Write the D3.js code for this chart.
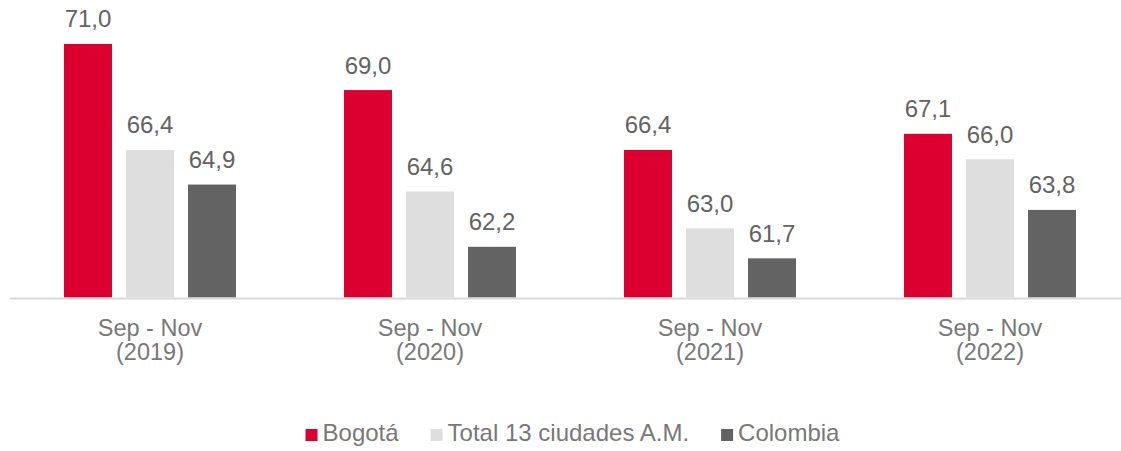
<!DOCTYPE html>
<html>
<head>
<meta charset="utf-8">
<script src="https://cdn.jsdelivr.net/npm/d3@7"></script>
<style>
  html, body { margin: 0; padding: 0; background: #ffffff; }
  svg { display: block; font-family: Arial, "Liberation Sans", Helvetica, sans-serif; }
</style>
</head>
<body>
<svg id="chart" width="1121" height="451"></svg>
<script>
// Periods on the x axis (two-line labels)
const periods = ["Sep - Nov (2019)", "Sep - Nov (2020)", "Sep - Nov (2021)", "Sep - Nov (2022)"];
const periodLines = [["Sep - Nov", "(2019)"], ["Sep - Nov", "(2020)"], ["Sep - Nov", "(2021)"], ["Sep - Nov", "(2022)"]];

// Series
const seriesNames = ["Bogotá", "Total 13 ciudades A.M.", "Colombia"];
const bogota = [71.0, 69.0, 66.4, 67.1];
const trece = [66.4, 64.6, 63.0, 66.0];
const colombia = [64.9, 62.2, 61.7, 63.8];
const seriesColors = ["#dc0030", "#dedede", "#636363"];

const seriesValues = [bogota, trece, colombia];
const rows = periods.map((p, i) => ({
  period: p,
  values: seriesNames.map((s, j) => ({ series: s, value: seriesValues[j][i], color: seriesColors[j] }))
}));

const locale = d3.formatLocale({ decimal: ",", thousands: ".", grouping: [3], currency: ["", ""] });
const fmt = locale.format(".1f");

const svg = d3.select("#chart");

const x0 = d3.scaleBand().domain(periods).range([10, 1130]);
const x1 = d3.scaleBand().domain(seriesNames).range([54, 226]).paddingInner(14 / 62);
const y = d3.scaleLinear().domain([60, 72]).range([297.5, 20.9]);

// Bars
const groups = svg.append("g").selectAll("g")
  .data(rows)
  .join("g")
  .attr("transform", d => `translate(${x0(d.period)},0)`);

groups.selectAll("rect")
  .data(d => d.values)
  .join("rect")
  .attr("x", d => x1(d.series))
  .attr("width", x1.bandwidth())
  .attr("y", d => y(d.value))
  .attr("height", d => y(60) - y(d.value))
  .attr("fill", d => d.color);

// Value labels
groups.selectAll("text")
  .data(d => d.values)
  .join("text")
  .attr("x", d => x1(d.series) + x1.bandwidth() / 2)
  .attr("y", d => y(d.value) - 16.5)
  .attr("text-anchor", "middle")
  .attr("font-size", 24)
  .attr("fill", "#636363")
  .text(d => fmt(d.value));

// Category axis baseline
svg.append("line")
  .attr("x1", 10).attr("x2", 1130)
  .attr("y1", 298.5).attr("y2", 298.5)
  .attr("stroke", "#d9d9d9")
  .attr("stroke-width", 2);

// Category labels
const catLabels = svg.append("g").selectAll("text")
  .data(periods)
  .join("text")
  .attr("text-anchor", "middle")
  .attr("font-size", 23.5)
  .attr("fill", "#787878");

catLabels.selectAll("tspan")
  .data((d, i) => periodLines[i])
  .join("tspan")
  .attr("x", function () { const p = d3.select(this.parentNode).datum(); return x0(p) + x0.bandwidth() / 2; })
  .attr("y", (d, i) => 335.5 + i * 24)
  .text(d => d);

// Legend
const legend = svg.append("g");
const items = legend.selectAll("g")
  .data(seriesNames)
  .join("g");

items.append("rect")
  .attr("width", 12).attr("height", 12)
  .attr("y", 429)
  .attr("fill", (d, i) => seriesColors[i]);

items.append("text")
  .attr("x", 17)
  .attr("y", 441)
  .attr("font-size", 24)
  .attr("fill", "#787878")
  .text(d => d);

let cursor = 0;
const gap = 32;
items.each(function () {
  const w = 17 + this.querySelector("text").getComputedTextLength();
  d3.select(this).attr("transform", `translate(${cursor},0)`);
  cursor += w + gap;
});
const totalW = cursor - gap;
legend.attr("transform", `translate(${572.5 - totalW / 2},0)`);
</script>
</body>
</html>
